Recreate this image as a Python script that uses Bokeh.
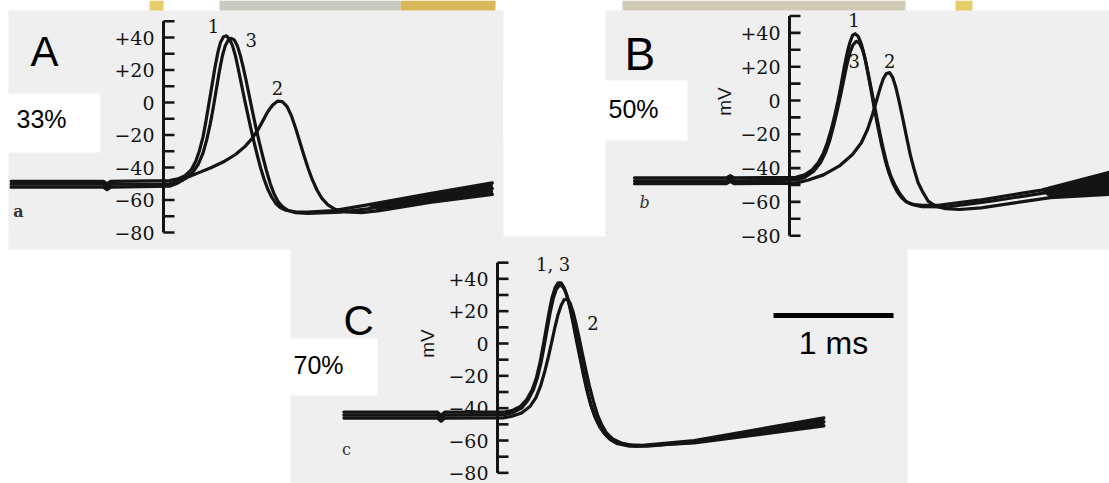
import numpy as np
from bokeh.plotting import figure
from bokeh.models import Range1d
from bokeh.core.properties import value
from bokeh.embed import file_html
from bokeh.resources import INLINE

W, H = 1109, 483
INK = "#141414"

# ---------------------------------------------------------------------------
# Membrane potential records (time in ms from the axis, potential in mV)
# Records 1 and 3: normal sodium; record 2: reduced sodium (33 %, 50 %, 70 %)
# ---------------------------------------------------------------------------
a1_t = [-1.27, -0.50, -0.47, -0.44, 0.05, 0.12, 0.18, 0.23, 0.27, 0.30, 0.33, 0.355, 0.38, 0.405,
        0.43, 0.455, 0.475, 0.50, 0.525, 0.55, 0.575, 0.60, 0.625, 0.65, 0.675, 0.70, 0.725,
        0.75, 0.78, 0.81, 0.84, 0.87, 0.90, 0.935, 0.97, 1.02, 1.10, 1.20, 1.42, 1.70, 2.22, 2.74]
a1_v = [-48.5, -48.5, -50, -48.5, -48, -47, -45, -41.5, -36, -29.5, -21, -11, 0, 11,
        22, 31.5, 37, 40.5, 41, 39, 35, 28.5, 20, 11, 2, -6.5, -15,
        -23, -32, -40.5, -47.5, -53.5, -58, -62, -64.5, -66.3, -67.3, -67.5, -66.5, -63, -56, -49.5]
a3_t = [-1.27, -0.50, -0.47, -0.44, 0.05, 0.12, 0.18, 0.24, 0.29, 0.33, 0.36, 0.39, 0.415, 0.44,
        0.465, 0.49, 0.515, 0.54, 0.565, 0.59, 0.615, 0.64, 0.665, 0.69, 0.715, 0.74, 0.77,
        0.80, 0.83, 0.86, 0.89, 0.92, 0.955, 0.99, 1.04, 1.10, 1.20, 1.475, 1.70, 2.22, 2.74]
a3_v = [-50.3, -50.3, -51.9, -50.3, -50, -48.5, -46.5, -43.5, -38, -31, -23, -13, -3, 8,
        19, 28.5, 35, 38.5, 39.5, 38.5, 35, 29, 21.5, 13, 4, -5, -15.5,
        -25, -34, -42.5, -50, -56, -61, -64, -66.5, -67.8, -68.3, -67.5, -65.5, -58.5, -53]
a2_t = [-1.27, -0.50, -0.47, -0.44, 0.05, 0.12, 0.20, 0.30, 0.40, 0.50, 0.60, 0.68, 0.74, 0.79,
        0.83, 0.87, 0.91, 0.95, 0.99, 1.03, 1.065, 1.10, 1.135, 1.17, 1.205, 1.24, 1.28,
        1.32, 1.37, 1.43, 1.52, 1.65, 1.80, 2.22, 2.74]
a2_v = [-52.1, -52.1, -53.6, -52.1, -51.5, -49.5, -46, -43, -40, -36.5, -32, -27, -22, -16.5,
        -11, -5.5, -1.5, 0.8, 0.5, -2.5, -8, -15.5, -24, -32.5, -40.5, -47.5, -54,
        -59, -63, -65.8, -67.3, -67.8, -66.5, -61.5, -56.5]

b1_t = [-1.23, -0.50, -0.47, -0.44, 0.05, 0.12, 0.18, 0.23, 0.27, 0.30, 0.33, 0.36, 0.385, 0.41,
        0.435, 0.46, 0.48, 0.50, 0.52, 0.545, 0.57, 0.595, 0.62, 0.645, 0.67, 0.70, 0.73,
        0.76, 0.79, 0.82, 0.855, 0.89, 0.93, 0.98, 1.05, 1.18, 1.50, 2.00, 2.54]
b1_v = [-45.8, -45.8, -44.5, -45.8, -45.5, -44, -41, -36.5, -31, -25, -17.5, -8.5, 0, 9.5,
        20, 29, 34.5, 38.5, 39.5, 38, 33.5, 26.5, 17, 7, -3.5, -15, -26,
        -35.5, -43, -49, -54, -57.5, -60, -61.5, -62, -62, -59, -53, -42.5]
b3_t = [-1.23, -0.50, -0.47, -0.44, 0.05, 0.12, 0.19, 0.245, 0.285, 0.32, 0.35, 0.38, 0.405, 0.43,
        0.455, 0.48, 0.505, 0.53, 0.555, 0.58, 0.605, 0.63, 0.655, 0.685, 0.715, 0.745, 0.775,
        0.805, 0.84, 0.875, 0.92, 0.97, 1.05, 1.25, 1.60, 2.00, 2.54]
b3_v = [-47.5, -47.5, -46.2, -47.5, -47.2, -45.5, -42, -37, -31, -23.5, -15, -5.5, 3, 12,
        21, 28.5, 33, 35, 34, 30, 23, 14, 4.5, -7, -18.5, -29, -38,
        -45, -50.5, -55, -59.5, -61.5, -62.8, -63, -59.5, -55, -48.5]
b2_t = [-1.23, -0.50, -0.47, -0.44, 0.05, 0.15, 0.27, 0.40, 0.50, 0.57, 0.62, 0.66, 0.695, 0.72,
        0.745, 0.77, 0.795, 0.82, 0.845, 0.87, 0.90, 0.93, 0.96, 0.99, 1.02, 1.06, 1.10,
        1.16, 1.24, 1.35, 1.52, 2.07, 2.54]
b2_v = [-49.2, -49.2, -47.9, -49.2, -49, -47, -44, -38.5, -32, -25, -17, -8, 1, 7.5,
        13, 16, 16.5, 13.5, 7.5, -0.5, -11, -22, -32.5, -41, -48.5, -54.5, -59.5,
        -62.5, -64, -64.5, -63.5, -57.5, -55.5]

c1_t = [-1.28, -0.50, -0.47, -0.44, 0.05, 0.12, 0.19, 0.245, 0.29, 0.325, 0.355, 0.38, 0.405, 0.43,
        0.455, 0.48, 0.505, 0.53, 0.555, 0.58, 0.605, 0.63, 0.655, 0.685, 0.715, 0.745, 0.775,
        0.81, 0.845, 0.885, 0.93, 0.99, 1.08, 1.21, 1.64, 2.72]
c1_v = [-42.5, -42.5, -44.5, -42.5, -42.5, -41.5, -39, -34.5, -28.5, -21, -11.5, -1.5, 9, 19.5,
        28.5, 34.5, 37.5, 37.5, 34.5, 29, 21.5, 12.5, 3, -8, -19, -29, -37.5,
        -45, -50.5, -55, -58.5, -61, -62.7, -63, -60, -46]
c3_t = [-1.28, -0.50, -0.47, -0.44, 0.05, 0.12, 0.20, 0.255, 0.30, 0.335, 0.365, 0.39, 0.415, 0.44,
        0.465, 0.49, 0.515, 0.54, 0.565, 0.59, 0.615, 0.64, 0.665, 0.695, 0.725, 0.755, 0.785,
        0.82, 0.855, 0.895, 0.94, 1.00, 1.10, 1.25, 1.70, 2.72]
c3_v = [-44.3, -44.3, -46.3, -44.3, -44.2, -43, -40, -35, -28.5, -20.5, -11, -1, 9.5, 19.5,
        28, 33.5, 36, 35.5, 32.5, 27, 19.5, 10.5, 1, -10, -21, -31, -39.5,
        -46.5, -52, -56, -59.5, -62, -63.5, -63.5, -60.5, -48.5]
c2_t = [-1.28, -0.50, -0.47, -0.44, 0.05, 0.12, 0.20, 0.27, 0.32, 0.36, 0.395, 0.425, 0.455, 0.48,
        0.505, 0.53, 0.555, 0.58, 0.605, 0.63, 0.655, 0.68, 0.705, 0.735, 0.765, 0.80, 0.835,
        0.87, 0.91, 0.96, 1.03, 1.15, 1.64, 2.72]
c2_v = [-46.1, -46.1, -48.1, -46.1, -46, -45, -43, -39, -33.5, -26, -17, -8, 2, 10.5,
        18, 23.5, 27, 27.5, 25, 19.5, 12, 3.5, -5.5, -16, -26, -36, -44.5,
        -50.5, -55.5, -59, -61.5, -63.5, -61.5, -51]

# voltage scale
minor_ticks = list(range(-80, 51, 10))
major_ticks = [40, 20, 0, -20, -40, -60, -80]
major_labels = ["+40", "+20", "0", "\u221220", "\u221240", "\u221260", "\u221280"]
axis_bounds = (-80, 50)

# panel letters, sodium fractions, record letters
panel_names = ["A", "B", "C"]
sodium_text = ["33%", "50%", "70%"]
record_text = ["a", "b", "c"]

# ---------------------------------------------------------------------------
# page layout (screen pixels): axis origin and scale of each panel
# ---------------------------------------------------------------------------
geom = {
    "A": dict(x0=163, y0=102, px_ms=120, px_mv=1.625, tail=(1.70, 1.80)),
    "B": dict(x0=789, y0=100, px_ms=126, px_mv=1.69, tail=(2.00, 2.07)),
    "C": dict(x0=497, y0=343, px_ms=120, px_mv=1.617, tail=(1.64, 1.64)),
}

p = figure(width=W, height=H, x_range=Range1d(0, W), y_range=Range1d(H, 0),
           x_axis_location=None, y_axis_location=None,
           output_backend="svg", toolbar_location=None, min_border=0)
p.grid.visible = False
p.outline_line_color = None
p.background_fill_color = "white"
p.border_fill_color = "white"

for name, g in geom.items():
    p.extra_x_ranges[name] = Range1d(-g["x0"] / g["px_ms"], (W - g["x0"]) / g["px_ms"])
    p.extra_y_ranges[name] = Range1d(-(H - g["y0"]) / g["px_mv"], g["y0"] / g["px_mv"])

# --- page background: scanned sheets and pasted white labels -------------
pages = dict(left=[8, 605, 290, 8], right=[503, 1109, 907, 1109],
             top=[10, 10, 245, 236], bottom=[245, 245, 483, 249])
p.quad(**pages, fill_color="#efefef", line_color=None)
boxes = dict(left=[0, 503, 280], right=[100, 687, 377], top=[93, 80, 338], bottom=[152, 140, 395])
p.quad(**boxes, fill_color="white", line_color=None)
# header strip
hdr = dict(left=[149, 219, 400, 622, 955], right=[163, 400, 495, 905, 972],
           top=[0, 0, 0, 0, 0], bottom=[10, 10, 10, 10, 10])
p.quad(**hdr, fill_color=["#e6cf6a", "#c9c9c2", "#d8b85a", "#cfcbb8", "#e6cf6a"], line_color=None)

serif = value("DejaVu Serif")
sans = value("Liberation Sans")

traces = {
    "A": [(a1_t, a1_v), (a3_t, a3_v), (a2_t, a2_v)],
    "B": [(b1_t, b1_v), (b3_t, b3_v), (b2_t, b2_v)],
    "C": [(c1_t, c1_v), (c3_t, c3_v), (c2_t, c2_v)],
}

# curve number labels: (text, record index, dx, dy in px from the record's peak)
numbering = {
    "A": [("1", 0, -13, -10), ("3", 1, 20, 2), ("2", 2, 0, -13)],
    "B": [("1", 0, -1, -14), ("3", 1, -2, 20), ("2", 2, 0, -12)],
    "C": [("1, 3", 0, -5, -18), ("2", 2, 26, 24)],
}

for name, g in geom.items():
    rn = dict(x_range_name=name, y_range_name=name)
    tick_len = 11 / g["px_ms"]

    # voltage axis drawn at the stimulus time
    p.segment(x0=[0], y0=[axis_bounds[0]], x1=[0], y1=[axis_bounds[1]],
              line_color=INK, line_width=3, **rn)
    p.segment(x0=[0] * len(minor_ticks), y0=minor_ticks,
              x1=[tick_len] * len(minor_ticks), y1=minor_ticks,
              line_color=INK, line_width=2.6, **rn)
    p.text(x=[0] * len(major_ticks), y=major_ticks, text=major_labels,
           x_offset=-9, text_align="right", text_baseline="middle",
           text_font=serif, text_font_size="19px", text_color=INK, **rn)

    # the slow recovery phase of the superimposed sweeps prints as one dark band
    (t1, v1), _, (t2, v2) = traces[name]
    s1, s2 = g["tail"]
    up = [(t, v) for t, v in zip(t1, v1) if t >= s1]
    lo = [(t, v) for t, v in zip(t2, v2) if t >= s2][::-1]
    band = up + lo
    p.patch([b[0] for b in band], [b[1] for b in band], fill_color=INK,
            line_color=INK, line_width=1, **rn)

    for t, v in traces[name]:
        p.line(t, v, line_color=INK, line_width=3.2, line_join="round",
               line_cap="round", **rn)

    for txt, idx, dx, dy in numbering[name]:
        t, v = traces[name][idx]
        k = int(np.argmax(v))
        p.text(x=[t[k]], y=[v[k]], text=[txt], x_offset=dx, y_offset=dy,
               text_align="center", text_baseline="middle",
               text_font=serif, text_font_size="18px", text_color=INK, **rn)

# "mV" unit labels
p.text(x=[724, 427], y=[101, 343], text=["mV", "mV"], angle=np.pi / 2,
       text_align="center", text_baseline="middle",
       text_font=sans, text_font_size="19px", text_color=INK)

# panel letters and sodium fractions
p.text(x=[30, 624, 343], y=[51, 53, 320], text=panel_names,
       text_font=sans, text_font_size=["42px", "46px", "42px"], text_color="black",
       text_align="left", text_baseline="middle")
p.text(x=[16, 608, 293], y=[118, 108, 364], text=sodium_text,
       text_font=sans, text_font_size="25px", text_color="black",
       text_align="left", text_baseline="middle")
p.text(x=[18, 644, 346], y=[211, 202, 449], text=record_text,
       text_font=serif, text_font_size="16px", text_color="#333333",
       text_font_style=["bold", "italic", "normal"],
       text_align="center", text_baseline="middle")

# time calibration: 1 ms
gc = geom["C"]
bar_t0 = (773 - gc["x0"]) / gc["px_ms"]
bar_v = (gc["y0"] - 315) / gc["px_mv"]
p.segment(x0=[bar_t0], y0=[bar_v], x1=[bar_t0 + 1.0], y1=[bar_v],
          line_color="black", line_width=5, x_range_name="C", y_range_name="C")
p.text(x=[bar_t0 + 0.5], y=[bar_v], text=["1 ms"], y_offset=27,
       text_align="center", text_baseline="middle",
       text_font=sans, text_font_size="32px", text_color="black",
       x_range_name="C", y_range_name="C")

open("out.html", "w").write(file_html(p, INLINE))
